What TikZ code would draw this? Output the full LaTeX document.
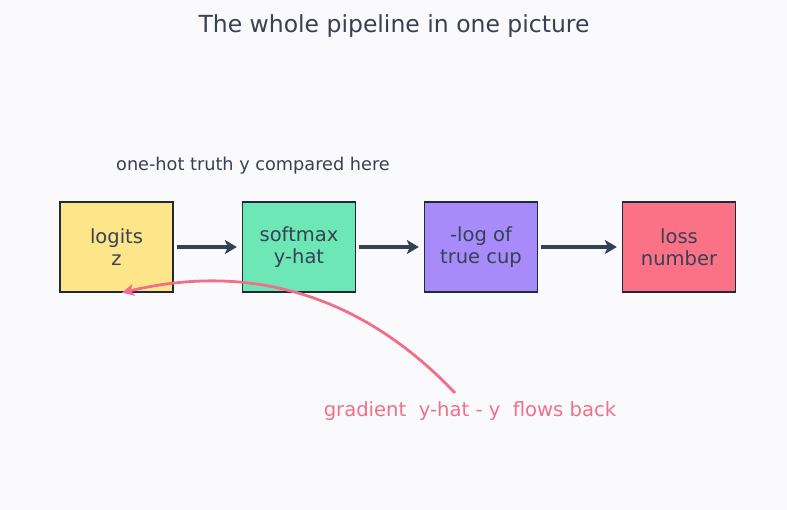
\documentclass[tikz,border=0pt]{standalone}
\usepackage{fontspec}
\setmainfont{DejaVu Sans}
\usetikzlibrary{arrows.meta}
\definecolor{bgpage}{HTML}{FAFAFD}
\definecolor{inkdark}{HTML}{374151}
\definecolor{edgedark}{HTML}{1F2937}
\definecolor{flowdark}{HTML}{334155}
\definecolor{gradpink}{HTML}{F07089}
\definecolor{boxyellow}{HTML}{FDE68A}
\definecolor{boxgreen}{HTML}{6EE7B7}
\definecolor{boxpurple}{HTML}{A78BFA}
\definecolor{boxred}{HTML}{FB7185}
\tikzset{
  stagebox/.style={draw=edgedark, line width=1.3pt, minimum width=113pt, minimum height=90pt,
    inner sep=0pt, align=center, text=inkdark, font=\fontsize{19.5}{21.5}\selectfont},
  flow/.style={draw=flowdark, line width=3.3pt, -{Stealth[length=12pt,width=14pt,inset=3pt]},
    shorten <=3pt, shorten >=5pt},
  backflow/.style={draw=gradpink, line width=2.8pt, -{Stealth[length=12pt,width=12pt,inset=3pt]}}
}
\begin{document}
\begin{tikzpicture}[x=1pt,y=-1pt]
\fill[bgpage] (0,0) rectangle (787,510);
\useasboundingbox (0,0) rectangle (787,510);
\node[text=inkdark, font=\fontsize{23.5}{26}\selectfont] (title) at (394,26) {The whole pipeline in one picture};
\foreach \nm/\x/\fillc/\txt in {logits/116.5/boxyellow/{logits\\z}, softmax/299/boxgreen/{softmax\\y-hat},
    cup/481/boxpurple/{-log of\\true cup}, loss/679/boxred/{loss\\number}} {
  \node[stagebox, fill=\fillc] (\nm) at (\x,247) {\txt};
}
\foreach \a/\b in {logits/softmax, softmax/cup, cup/loss}
  \draw[flow] (\a) -- (\b);
\node[text=inkdark, font=\fontsize{17.7}{20}\selectfont] (truth) at (253,166) {one-hot truth y compared here};
\node[text=gradpink, font=\fontsize{19.6}{22}\selectfont] (grad) at (470,411) {gradient\ \ y-hat - y\ \ flows back};
\coordinate (gstart) at (455,393);
\draw[backflow] (gstart) .. controls (363,296) and (252,262) .. ([xshift=5.5pt]logits.south);
\end{tikzpicture}
\end{document}
